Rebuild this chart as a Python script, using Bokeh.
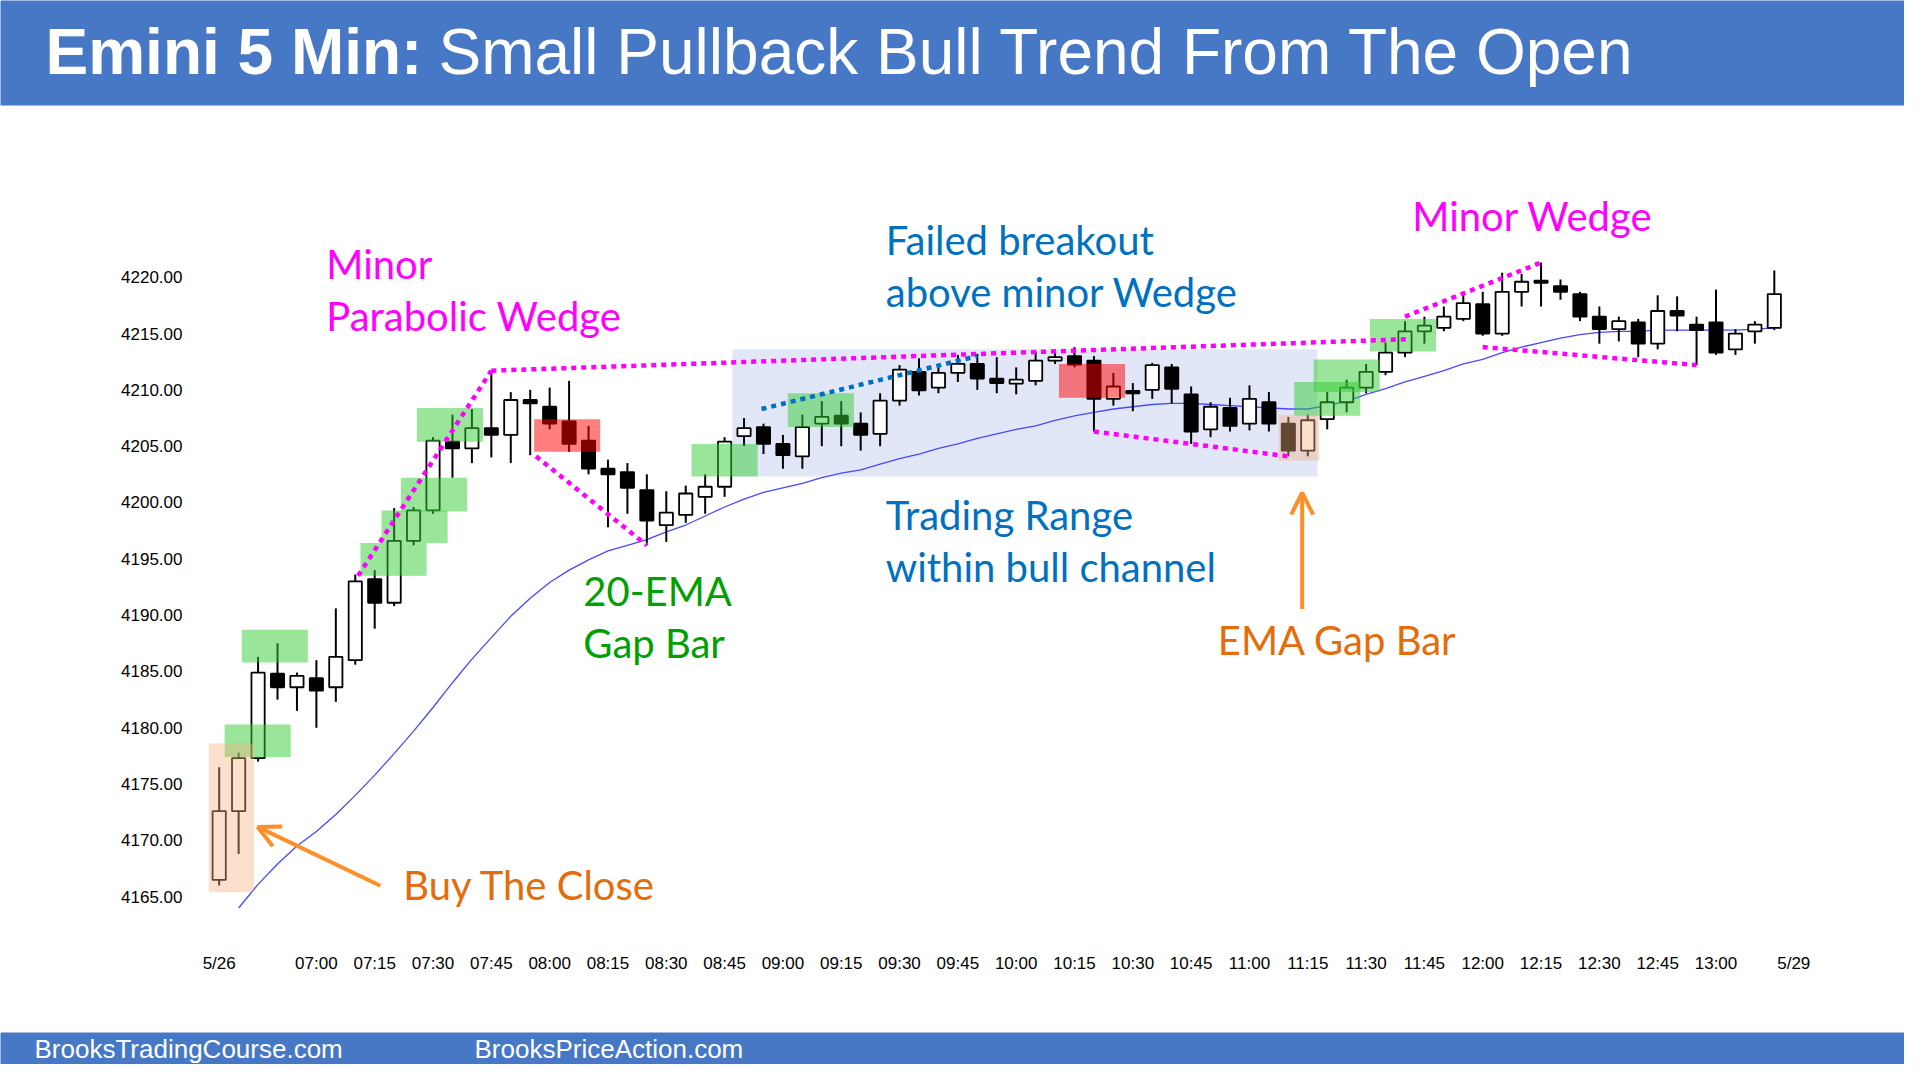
from bokeh.plotting import figure
from bokeh.models import (Range1d, FixedTicker, NumeralTickFormatter, Arrow, OpenHead,
                          ColumnDataSource)
from bokeh.embed import file_html
from bokeh.resources import INLINE
from bokeh.core.properties import value

# ---------------- data ----------------
tick_index = [0, 5, 8, 11, 14, 17, 20, 23, 26, 29, 32, 35, 38, 41, 44, 47, 50, 53, 56, 59, 62, 65, 68, 71, 74, 77, 81]
tick_labels = ["5/26", "07:00", "07:15", "07:30", "07:45", "08:00", "08:15", "08:30", "08:45", "09:00",
               "09:15", "09:30", "09:45", "10:00", "10:15", "10:30", "10:45", "11:00", "11:15", "11:30",
               "11:45", "12:00", "12:15", "12:30", "12:45", "13:00", "5/29"]
price_ticks = [4165, 4170, 4175, 4180, 4185, 4190, 4195, 4200, 4205, 4210, 4215, 4220]

opens = [4166.5, 4172.6, 4177.3, 4184.8, 4183.6, 4184.4, 4183.6, 4186.0, 4193.2, 4191.1,
         4196.6, 4199.3, 4205.4, 4204.8, 4206.6, 4206.0, 4209.1, 4208.5, 4207.2, 4205.5,
         4203.0, 4202.7, 4201.1, 4198.0, 4198.9, 4200.5, 4201.4, 4205.9, 4206.7, 4205.2,
         4204.1, 4207.0, 4207.7, 4207.0, 4206.1, 4209.05, 4211.6, 4210.2, 4211.5, 4212.3,
         4211.0, 4210.55, 4210.8, 4212.6, 4213.0, 4212.6, 4209.2, 4209.9, 4210.0, 4212.0,
         4209.6, 4206.5, 4208.4, 4207.0, 4208.9, 4207.0, 4204.6, 4207.4, 4208.9, 4210.2,
         4211.6, 4213.3, 4215.2, 4215.5, 4216.3, 4217.6, 4215.0, 4218.7, 4219.7, 4219.2,
         4218.5, 4216.5, 4215.4, 4216.0, 4214.1, 4217.0, 4215.8, 4216.0, 4213.6, 4215.2,
         4215.5]
highs = [4176.5, 4177.8, 4186.3, 4187.5, 4184.9, 4186.0, 4190.6, 4193.6, 4194.0, 4199.5,
         4199.6, 4205.8, 4207.8, 4208.3, 4211.7, 4209.8, 4210.0, 4210.2, 4210.8, 4206.8,
         4203.8, 4203.5, 4202.5, 4201.0, 4201.5, 4202.5, 4205.8, 4207.5, 4207.0, 4206.0,
         4207.8, 4209.0, 4209.0, 4208.0, 4209.7, 4212.2, 4212.8, 4212.0, 4213.1, 4213.2,
         4212.9, 4212.0, 4213.4, 4213.4, 4213.8, 4213.0, 4211.5, 4210.6, 4212.4, 4212.3,
         4210.3, 4208.9, 4209.3, 4210.4, 4209.8, 4207.6, 4207.8, 4209.8, 4210.9, 4212.3,
         4214.2, 4216.1, 4216.5, 4217.4, 4218.4, 4218.7, 4220.4, 4220.3, 4221.3, 4219.8,
         4218.7, 4217.4, 4216.5, 4216.3, 4218.4, 4218.3, 4216.5, 4218.9, 4215.4, 4216.1,
         4220.6]
lows = [4166.0, 4168.8, 4177.0, 4182.5, 4181.5, 4180.0, 4182.3, 4185.6, 4188.8, 4190.8,
        4196.2, 4199.0, 4202.2, 4203.5, 4204.0, 4203.5, 4204.2, 4206.5, 4204.5, 4202.5,
        4197.8, 4199.0, 4196.2, 4196.5, 4198.2, 4199.0, 4200.5, 4205.0, 4204.3, 4203.0,
        4203.0, 4205.0, 4205.0, 4204.6, 4205.0, 4208.6, 4209.5, 4209.7, 4210.7, 4210.0,
        4209.7, 4209.6, 4210.4, 4212.3, 4212.0, 4206.3, 4208.6, 4208.1, 4209.2, 4208.8,
        4205.2, 4205.8, 4206.3, 4206.4, 4206.3, 4204.1, 4204.1, 4206.5, 4208.0, 4209.7,
        4211.3, 4212.9, 4214.1, 4215.2, 4216.1, 4214.8, 4214.8, 4217.4, 4217.4, 4218.0,
        4216.1, 4214.1, 4214.3, 4212.9, 4213.6, 4215.2, 4212.2, 4213.1, 4213.1, 4214.1,
        4215.3]
closes = [4172.6, 4177.3, 4184.9, 4183.6, 4184.6, 4183.3, 4186.3, 4193.0, 4191.1, 4196.6,
          4199.3, 4205.5, 4204.8, 4206.6, 4206.0, 4209.1, 4208.8, 4207.0, 4205.2, 4203.0,
          4202.5, 4201.3, 4198.4, 4199.1, 4200.8, 4201.4, 4205.4, 4206.6, 4205.2, 4204.2,
          4206.7, 4207.6, 4207.0, 4206.0, 4209.05, 4211.8, 4209.95, 4211.5, 4212.3, 4211.0,
          4210.6, 4210.9, 4212.6, 4212.9, 4212.25, 4209.2, 4210.3, 4209.7, 4212.2, 4210.1,
          4206.3, 4208.5, 4206.8, 4209.2, 4207.0, 4204.6, 4207.3, 4208.9, 4210.2, 4211.6,
          4213.3, 4215.2, 4215.7, 4216.5, 4217.7, 4215.0, 4218.7, 4219.6, 4219.5, 4218.7,
          4216.5, 4215.4, 4216.1, 4214.1, 4217.0, 4216.6, 4215.3, 4213.3, 4215.0, 4215.8,
          4218.5]
ema20 = [float("nan"), 4164.0, 4166.1, 4167.9, 4169.5, 4170.8, 4172.3, 4174.0, 4175.8, 4177.7,
         4179.7, 4181.8, 4184.0, 4186.1, 4188.0, 4189.9, 4191.5, 4192.9, 4194.0, 4194.9,
         4195.7, 4196.2, 4196.7, 4197.4, 4198.0, 4198.8, 4199.6, 4200.3, 4200.9, 4201.3,
         4201.7, 4202.2, 4202.6, 4202.9, 4203.4, 4203.9, 4204.3, 4204.8, 4205.2, 4205.7,
         4206.1, 4206.5, 4206.8, 4207.3, 4207.7, 4208.0, 4208.3, 4208.5, 4208.7, 4208.8,
         4208.8, 4208.7, 4208.6, 4208.5, 4208.4, 4208.3, 4208.3, 4208.6, 4209.0, 4209.6,
         4210.1, 4210.7, 4211.2, 4211.7, 4212.3, 4212.7, 4213.3, 4213.8, 4214.2, 4214.6,
         4214.9, 4215.1, 4215.2, 4215.2, 4215.3, 4215.3, 4215.3, 4215.3, 4215.3, 4215.4,
         4215.5]

# annotation boxes: (left, right, bottom, top) in bar-index / price units
green_boxes = [(0.28, 3.68, 4177.4, 4180.3), (1.16, 4.56, 4185.8, 4188.7), (7.27, 10.67, 4193.5, 4196.4),
               (8.35, 11.75, 4196.4, 4199.3), (9.35, 12.75, 4199.2, 4202.2), (10.17, 13.57, 4205.4, 4208.4),
               (24.3, 27.7, 4202.3, 4205.2), (29.25, 32.65, 4206.7, 4209.7), (55.3, 58.7, 4207.7, 4210.7),
               (56.3, 59.7, 4209.8, 4212.7), (59.2, 62.6, 4213.4, 4216.3)]
red_boxes = [(16.2, 19.6, 4204.5, 4207.4), (43.2, 46.6, 4209.3, 4212.3)]
tan_boxes = [(-0.54, 1.8, 4165.4, 4178.6), (54.5, 56.6, 4203.7, 4207.8)]
range_box = (26.4, 56.5, 4202.3, 4213.6)
magenta_lines = [((7.15, 4193.5), (14.0, 4211.7)), ((14.0, 4211.7), (61.2, 4214.5)),
                 ((16.3, 4204.1), (22.0, 4196.2)), ((45.0, 4206.3), (55.0, 4204.1)),
                 ((61.0, 4216.5), (68.0, 4221.3)), ((65.0, 4213.8), (76.0, 4212.2))]
blue_lines = [((27.9, 4208.3), (39.0, 4213.0))]

# ---------------- styling ----------------
W, H = 1904, 1064
BAND = "#4778C6"
FONT = "Liberation Sans"
NOTE_FONT = "Lato"
MAGENTA = "#FF00FF"
NOTE_BLUE = "#0070C0"
NOTE_GREEN = "#00A000"
NOTE_ORANGE = "#E46C0A"
ARROW_ORANGE = "#FF9028"

X0, X1 = -11.250, 86.697          # whole canvas is the plot frame
Y0, Y1 = 4150.106, 4244.567
AXIS_X = -1.476                    # where the price labels hang
AXIS_Y = 4160.67                   # where the time labels hang

p = figure(width=W, height=H, x_range=Range1d(X0, X1), y_range=Range1d(Y0, Y1),
           toolbar_location=None, output_backend="svg",
           min_border_left=0, min_border_right=0, min_border_top=0, min_border_bottom=0)
p.outline_line_color = None
p.grid.visible = False
p.background_fill_color = "white"
p.border_fill_color = "white"

for ax in (p.xaxis, p.yaxis):
    ax.axis_line_color = None
    ax.major_tick_line_color = None
    ax.minor_tick_line_color = None
    ax.major_tick_out = 0
    ax.major_tick_in = 0
    ax.major_label_text_font = FONT
    ax.major_label_text_font_size = "17px"
    ax.major_label_text_color = "#000000"
p.xaxis.ticker = FixedTicker(ticks=tick_index)
p.xaxis.major_label_overrides = {k: v for k, v in zip(tick_index, tick_labels)}
p.xaxis.major_label_standoff = 8
p.xaxis.fixed_location = AXIS_Y
p.yaxis.ticker = FixedTicker(ticks=price_ticks)
p.yaxis.formatter = NumeralTickFormatter(format="0.00")
p.yaxis.major_label_standoff = 8
p.yaxis.fixed_location = AXIS_X

# header / footer bands
p.quad(left=[X0 - 1, X0 - 1], right=[X1 + 1, X1 + 1], bottom=[4235.245, Y0 - 1], top=[Y1 + 1, 4152.95],
       fill_color=BAND, line_color=None)
p.text(x=[-8.935], y=[4240.0], text=["Emini 5 Min:"], text_font=value(FONT), text_font_style="bold",
       text_font_size="64px", text_color="white", text_baseline="alphabetic")
p.text(x=[11.282], y=[4240.0], text=["Small Pullback Bull Trend From The Open"], text_font=value(FONT),
       text_font_size="64px", text_color="white", text_baseline="alphabetic")
p.text(x=[-9.501, 13.134], y=[4151.45, 4151.45], text=["BrooksTradingCourse.com", "BrooksPriceAction.com"],
       text_font=value(FONT), text_font_size="26px", text_color="white", text_baseline="alphabetic")

# trading range box (behind)
l, r, b, tp = range_box
p.quad(left=[l], right=[r], bottom=[b], top=[tp], fill_color="#E2E7F8", line_color=None)

idx = list(range(len(opens)))
p.line(idx, ema20, line_color="#4848FF", line_width=1.3)

up = [c >= o for o, c in zip(opens, closes)]
src = ColumnDataSource(dict(
    x=idx, high=highs, low=lows,
    top=[max(o, c) for o, c in zip(opens, closes)],
    bottom=[min(o, c) for o, c in zip(opens, closes)],
    fill=["white" if u else "black" for u in up],
))
p.segment(x0="x", y0="low", x1="x", y1="high", source=src, line_color="black", line_width=2)
p.vbar(x="x", width=0.68, top="top", bottom="bottom", source=src, fill_color="fill",
       line_color="black", line_width=1.8)

def boxes(lst, color, alpha):
    p.quad(left=[q[0] for q in lst], right=[q[1] for q in lst], bottom=[q[2] for q in lst],
           top=[q[3] for q in lst], fill_color=color, fill_alpha=alpha, line_color=None)

boxes(green_boxes, "#33CC33", 0.5)
boxes(red_boxes, "#FF0000", 0.5)
boxes(tan_boxes, "#F4B183", 0.4)

for (x0, y0), (x1, y1) in magenta_lines:
    p.line([x0, x1], [y0, y1], line_color=MAGENTA, line_width=4.5, line_dash="5 5")
for (x0, y0), (x1, y1) in blue_lines:
    p.line([x0, x1], [y0, y1], line_color=NOTE_BLUE, line_width=4.5, line_dash="5 5")

p.add_layout(Arrow(end=OpenHead(line_color=ARROW_ORANGE, line_width=4, size=22),
                   x_start=8.29, y_start=4165.98, x_end=1.98, y_end=4171.2,
                   line_color=ARROW_ORANGE, line_width=4))
p.add_layout(Arrow(end=OpenHead(line_color=ARROW_ORANGE, line_width=4, size=22),
                   x_start=55.71, y_start=4190.54, x_end=55.71, y_end=4200.87,
                   line_color=ARROW_ORANGE, line_width=4))

notes = [
    ("Minor", 5.51, 4221.2, MAGENTA),
    ("Parabolic Wedge", 5.51, 4216.6, MAGENTA),
    ("Failed breakout", 34.29, 4223.3, NOTE_BLUE),
    ("above minor Wedge", 34.29, 4218.7, NOTE_BLUE),
    ("Minor Wedge", 61.38, 4225.4, MAGENTA),
    ("20-EMA", 18.73, 4192.1, NOTE_GREEN),
    ("Gap Bar", 18.73, 4187.5, NOTE_GREEN),
    ("Trading Range", 34.29, 4198.9, NOTE_BLUE),
    ("within bull channel", 34.29, 4194.3, NOTE_BLUE),
    ("EMA Gap Bar", 51.37, 4187.8, NOTE_ORANGE),
    ("Buy The Close", 9.47, 4166.0, NOTE_ORANGE),
]
p.text(x=[n[1] for n in notes], y=[n[2] for n in notes], text=[n[0] for n in notes],
       text_color=[n[3] for n in notes], text_font=value(NOTE_FONT), text_font_size="40px",
       text_baseline="alphabetic", text_align="left")

open("out.html", "w").write(file_html(p, INLINE))
